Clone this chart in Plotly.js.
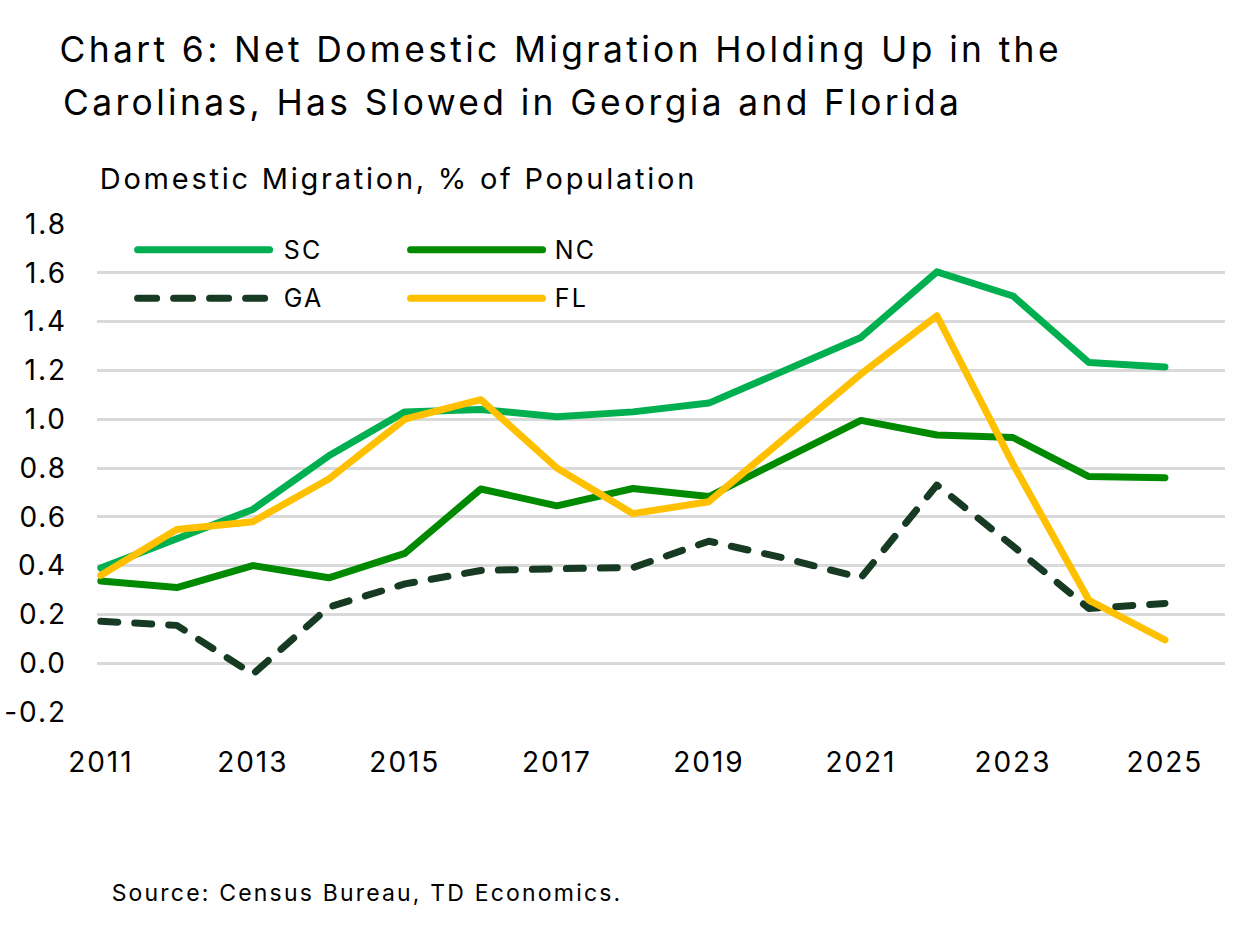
<!DOCTYPE html>
<html>
<head>
<meta charset="utf-8">
<script src="https://cdn.plot.ly/plotly-3.0.1.min.js"></script>
<style>
  html, body { margin: 0; padding: 0; background: #fff; }
  #chart { width: 1240px; height: 925px; }
  /* the original face is set loose */
  #chart .annotation-text { letter-spacing: 0.095em; }
  #chart .xtick text, #chart .ytick text { letter-spacing: 0.07em; }
</style>
</head>
<body>
<div id="chart"></div>
<script>
const years = [2011, 2012, 2013, 2014, 2015, 2016, 2017, 2018, 2019, 2020, 2021, 2022, 2023, 2024, 2025];

const sc = [0.39, 0.51, 0.63, 0.85, 1.03, 1.04, 1.01, 1.03, 1.066, 1.20, 1.335, 1.604, 1.505, 1.232, 1.214];
const nc = [0.337, 0.31, 0.40, 0.35, 0.45, 0.714, 0.645, 0.716, 0.683, 0.84, 0.995, 0.935, 0.925, 0.765, 0.76];
const ga = [0.172, 0.155, -0.045, 0.23, 0.325, 0.38, 0.387, 0.392, 0.50, 0.43, 0.35, 0.73, 0.48, 0.224, 0.245];
const fl = [0.36, 0.548, 0.58, 0.755, 1.0, 1.08, 0.80, 0.613, 0.662, 0.925, 1.185, 1.424, 0.817, 0.258, 0.096];

const seriesNames = ["SC", "NC", "GA", "FL"];
const seriesColors = ["#00b050", "#008a00", "#173b22", "#ffc000"];
const seriesDash = ["solid", "solid", "17px,17px", "solid"];
const seriesValues = [sc, nc, ga, fl];

const xTicks = [2011, 2013, 2015, 2017, 2019, 2021, 2023, 2025];
const yTicks = [-0.2, 0, 0.2, 0.4, 0.6, 0.8, 1.0, 1.2, 1.4, 1.6, 1.8];

const titleLines = [
  "Chart 6: Net Domestic Migration Holding Up in the",
  "Carolinas, Has Slowed in Georgia and Florida",
];

const FONT = "Inter, Roboto, sans-serif";

var traces = seriesValues.map((vals, i) => ({
  type: "scatter",
  mode: "lines",
  name: seriesNames[i],
  x: years,
  y: vals,
  line: { color: seriesColors[i], width: 7, dash: seriesDash[i] },
  showlegend: false,
  hoverinfo: "skip",
}));

// hand drawn legend: long swatches like the original, two columns
var legendPos = [
  { x0: 0.036, x1: 0.153, tx: 0.166, y: 0.947 },
  { x0: 0.278, x1: 0.395, tx: 0.406, y: 0.947 },
  { x0: 0.036, x1: 0.153, tx: 0.166, y: 0.848 },
  { x0: 0.278, x1: 0.395, tx: 0.406, y: 0.848 },
];
var shapes = [];
var annotations = [];
legendPos.forEach((p, i) => {
  shapes.push({
    type: "line", xref: "paper", yref: "paper",
    x0: p.x0, x1: p.x1, y0: p.y, y1: p.y,
    line: { color: seriesColors[i], width: 7, dash: i === 2 ? "19px,17px" : "solid" },
  });
  annotations.push({
    xref: "paper", yref: "paper", x: p.tx, y: p.y,
    xanchor: "left", yanchor: "middle", showarrow: false,
    text: seriesNames[i],
    font: { family: FONT, size: 25, color: "#000" },
  });
});

// free text is centred on its span: the letter spacing is not measured by plotly
var titleSpots = [{ x: 0.4113, y: 1.357 }, { x: 0.3684, y: 1.249 }];
titleSpots.forEach((s, i) => {
  annotations.push({
    xref: "paper", yref: "paper", x: s.x, y: s.y,
    xanchor: "center", yanchor: "middle", showarrow: false,
    text: titleLines[i],
    font: { family: FONT, size: 35.4, color: "#000" },
  });
});

annotations.push({
  xref: "paper", yref: "paper", x: 0.2673, y: 1.094,
  xanchor: "center", yanchor: "middle", showarrow: false,
  text: "Domestic Migration, % of Population",
  font: { family: FONT, size: 29, color: "#000" },
});
annotations.push({
  xref: "paper", yref: "paper", x: 0.2398, y: -0.371,
  xanchor: "center", yanchor: "middle", showarrow: false,
  text: "Source: Census Bureau, TD Economics.",
  font: { family: FONT, size: 23, color: "#000" },
});

var layout = {
  width: 1240,
  height: 925,
  paper_bgcolor: "#fff",
  plot_bgcolor: "#fff",
  margin: { l: 97, r: 15, t: 224, b: 213, pad: 0 },
  xaxis: {
    range: [2010.95, 2025.79],
    tickvals: xTicks,
    ticktext: xTicks.map(String),
    showgrid: false,
    zeroline: false,
    showline: false,
    ticks: "",
    ticklabelstandoff: 31,
    tickfont: { family: FONT, size: 28, color: "#000" },
    fixedrange: true,
  },
  yaxis: {
    range: [-0.2, 1.8],
    tickvals: yTicks,
    ticktext: yTicks.map((v) => v.toFixed(1)),
    showgrid: true,
    gridcolor: "#d9d9d9",
    gridwidth: 3,
    zeroline: false,
    showline: false,
    ticks: "",
    ticklabelstandoff: 29,
    tickfont: { family: FONT, size: 28, color: "#000" },
    fixedrange: true,
  },
  shapes: shapes,
  annotations: annotations,
  showlegend: false,
};

Plotly.newPlot("chart", traces, layout, { displayModeBar: false, staticPlot: true }).then(() => {
  // round line ends like the original
  document.querySelectorAll("#chart path.js-line, #chart .shapelayer path").forEach((p) => {
    p.style.strokeLinecap = "round";
    p.style.strokeLinejoin = "round";
  });
});
</script>
</body>
</html>
